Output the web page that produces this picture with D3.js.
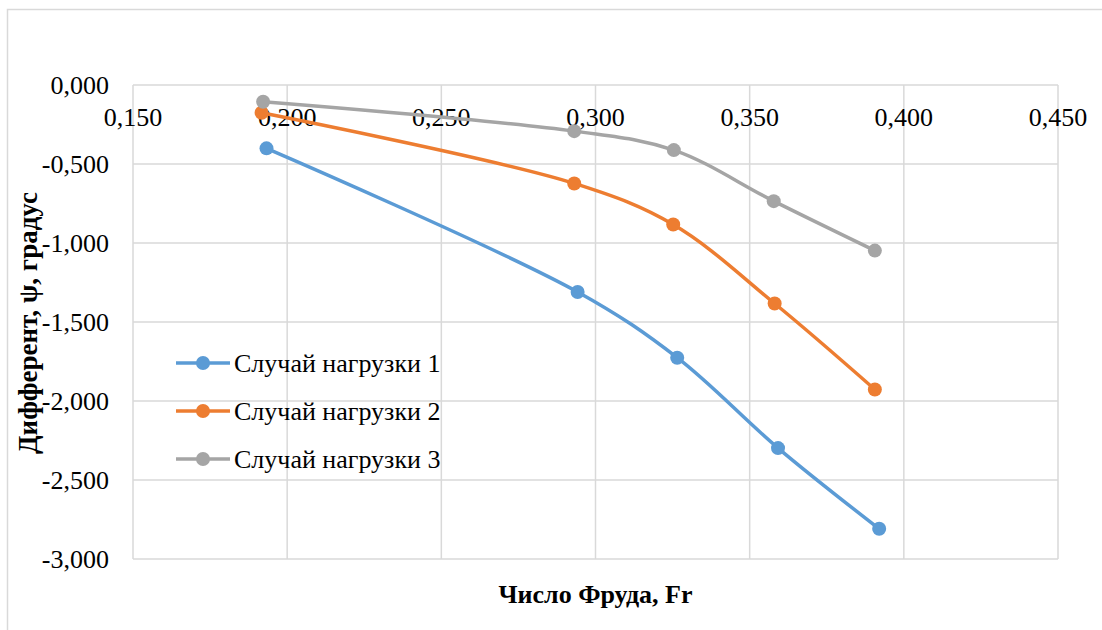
<!DOCTYPE html>
<html>
<head>
<meta charset="utf-8">
<script src="https://cdn.jsdelivr.net/npm/d3@7"></script>
<style>
  body { margin: 0; background: #fff; }
  text { font-family: "Liberation Serif", "Times New Roman", serif; fill: #000; }
</style>
</head>
<body>
<div id="chart"></div>
<script>
// data
var seriesNames = ["Случай нагрузки 1", "Случай нагрузки 2", "Случай нагрузки 3"];
var colors = ["#5B9BD5", "#ED7D31", "#A5A5A5"];
var fr1 = [0.1933, 0.2942, 0.3265, 0.3592, 0.3920];
var psi1 = [-0.401, -1.310, -1.726, -2.298, -2.809];
var fr2 = [0.1917, 0.2931, 0.3252, 0.3581, 0.3906];
var psi2 = [-0.176, -0.623, -0.883, -1.383, -1.927];
var fr3 = [0.1922, 0.2931, 0.3254, 0.3578, 0.3906];
var psi3 = [-0.106, -0.292, -0.412, -0.735, -1.048];
var xTicks = [0.15, 0.2, 0.25, 0.3, 0.35, 0.4, 0.45];
var yTicks = [0, -0.5, -1, -1.5, -2, -2.5, -3];

var width = 1102, height = 630;
var plotLeft = 133, plotRight = 1058, plotTop = 85, plotBottom = 559;

var svg = d3.select("#chart").append("svg")
  .attr("width", width)
  .attr("height", height);

// outer chart border
svg.append("path")
  .attr("d", "M7.5," + height + "V9.5H" + width)
  .attr("fill", "none")
  .attr("stroke", "#d9d9d9")
  .attr("stroke-width", 1.5);

var x = d3.scaleLinear().domain([0.15, 0.45]).range([plotLeft, plotRight]);
var y = d3.scaleLinear().domain([-3, 0]).range([plotBottom, plotTop]);

var fmt = function(v) { return d3.format(".3f")(v).replace(".", ",").replace("−", "-"); };

// grid
svg.append("g").selectAll("line").data(xTicks).enter().append("line")
  .attr("x1", function(d) { return x(d); }).attr("x2", function(d) { return x(d); })
  .attr("y1", plotTop).attr("y2", plotBottom)
  .attr("stroke", "#d9d9d9").attr("stroke-width", 1.5);
svg.append("g").selectAll("line").data(yTicks).enter().append("line")
  .attr("y1", function(d) { return y(d); }).attr("y2", function(d) { return y(d); })
  .attr("x1", plotLeft).attr("x2", plotRight)
  .attr("stroke", "#d9d9d9").attr("stroke-width", 1.5);

// tick labels
svg.append("g").selectAll("text").data(xTicks).enter().append("text")
  .attr("x", function(d) { return x(d); })
  .attr("y", y(0) + 41)
  .attr("text-anchor", "middle")
  .style("font-size", "26px")
  .text(fmt);
svg.append("g").selectAll("text").data(yTicks).enter().append("text")
  .attr("x", plotLeft - 24)
  .attr("y", function(d) { return y(d) + 9; })
  .attr("text-anchor", "end")
  .style("font-size", "26px")
  .text(fmt);

// series
var series = [
  { name: seriesNames[0], color: colors[0], xs: fr1, ys: psi1 },
  { name: seriesNames[1], color: colors[1], xs: fr2, ys: psi2 },
  { name: seriesNames[2], color: colors[2], xs: fr3, ys: psi3 }
];

var line = d3.line()
  .x(function(d) { return x(d[0]); })
  .y(function(d) { return y(d[1]); })
  .curve(d3.curveCatmullRom.alpha(0.5));

series.forEach(function(s) {
  var pts = d3.zip(s.xs, s.ys);
  svg.append("path")
    .datum(pts)
    .attr("d", line)
    .attr("fill", "none")
    .attr("stroke", s.color)
    .attr("stroke-width", 3.5);
  svg.append("g").selectAll("circle").data(pts).enter().append("circle")
    .attr("cx", function(d) { return x(d[0]); })
    .attr("cy", function(d) { return y(d[1]); })
    .attr("r", 7)
    .attr("fill", s.color);
});

// legend
var legend = svg.append("g").selectAll("g").data(series).enter().append("g")
  .attr("transform", function(d, i) { return "translate(176," + (363 + i * 48) + ")"; });
legend.append("line")
  .attr("x1", 0).attr("x2", 54)
  .attr("stroke", function(d) { return d.color; })
  .attr("stroke-width", 3.5);
legend.append("circle")
  .attr("cx", 27).attr("r", 7)
  .attr("fill", function(d) { return d.color; });
legend.append("text")
  .attr("x", 58).attr("y", 9)
  .style("font-size", "26px")
  .text(function(d) { return d.name; });

// axis titles
svg.append("text")
  .attr("x", (plotLeft + plotRight) / 2)
  .attr("y", 603)
  .attr("text-anchor", "middle")
  .style("font-size", "26px")
  .style("font-weight", "bold")
  .text("Число Фруда, Fr");
svg.append("text")
  .attr("transform", "translate(37,323) rotate(-90)")
  .attr("text-anchor", "middle")
  .style("font-size", "27px")
  .style("font-weight", "bold")
  .text("Дифферент, ψ, градус");
</script>
</body>
</html>
